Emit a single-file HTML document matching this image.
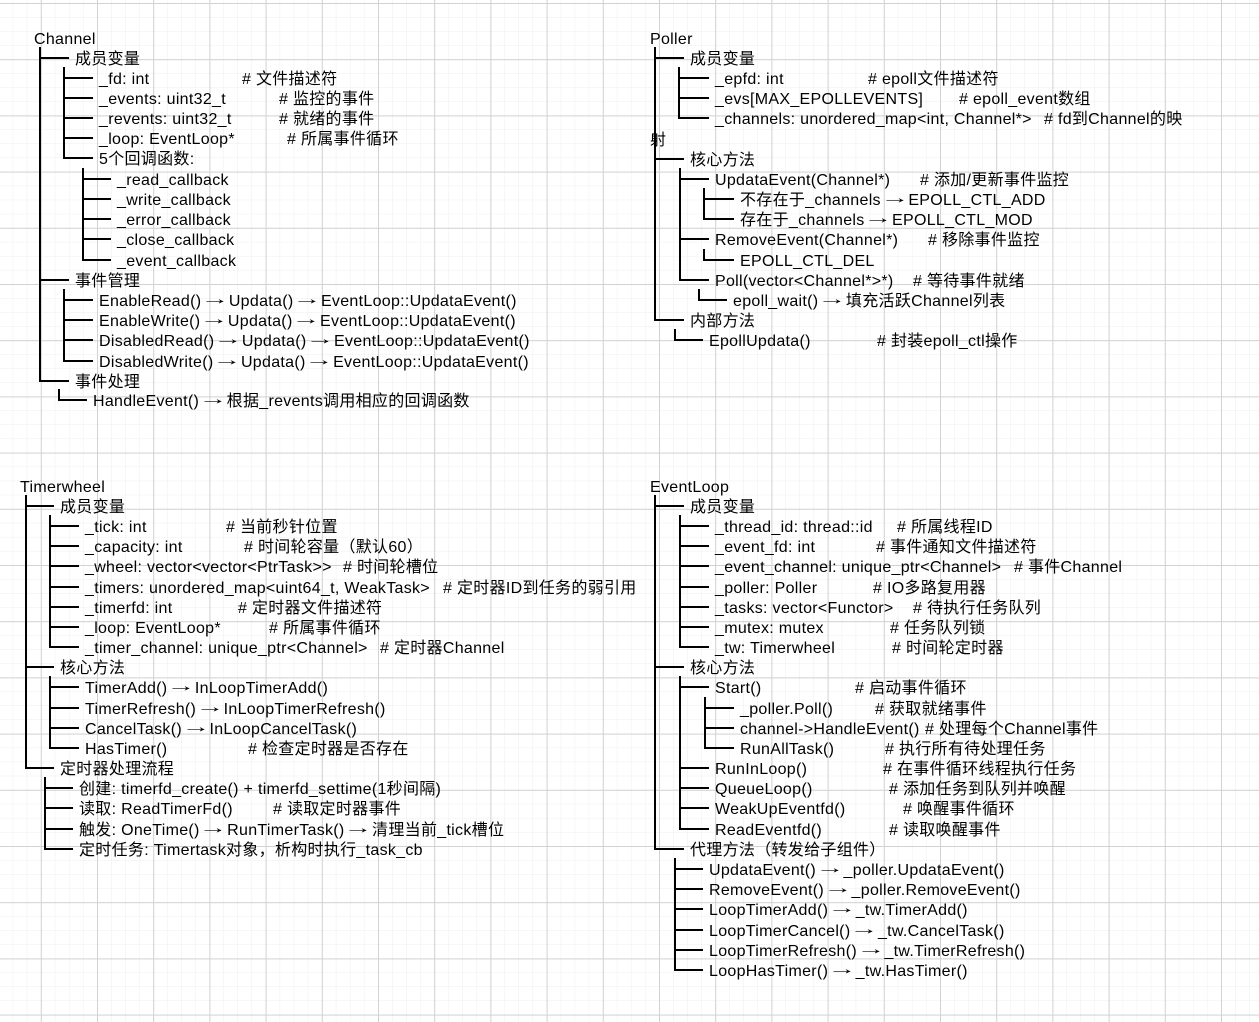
<!DOCTYPE html>
<html><head><meta charset="utf-8">
<style>
html,body{margin:0;padding:0;background:#fff;}
#w{position:relative;width:1259px;height:1022px;overflow:hidden;font-family:"Liberation Sans","Noto Sans CJK SC",sans-serif;font-size:16px;color:#000;}
.t{position:absolute;white-space:pre;line-height:20px;height:20px;letter-spacing:0.3px;}
.a{display:inline-block;width:18px;text-align:center;font-family:"Liberation Sans",sans-serif;transform:translateY(-2px) scaleX(1.8);}
svg{position:absolute;left:0;top:0;}
</style></head><body><div id="w">
<svg width="1259" height="1022" id="g">
<defs>
<pattern id="mi" x="40.8" y="3" width="14.05" height="14.05" patternUnits="userSpaceOnUse">
<path d="M0 0H14.05M0 0V14.05" stroke="#eeeeee" stroke-width="1" fill="none"/></pattern>
<pattern id="ma" x="40.8" y="3" width="56.2" height="56.2" patternUnits="userSpaceOnUse">
<path d="M0 0.5H56.2M0.5 0V56.2" stroke="#d2d2d2" stroke-width="1" fill="none"/></pattern>
</defs>
<rect width="1259" height="1022" fill="url(#mi)"/>
<rect width="1259" height="1022" fill="url(#ma)"/>
<g id="lines" stroke="#000" stroke-width="2"></g>
</svg>
</div>
<script>
var sections=[
[[34,38,"Channel",null],
[75,58,"成员变量",40],
[99,78,"_fd: int",64,242,"# 文件描述符"],
[99,98,"_events: uint32_t",64,279,"# 监控的事件"],
[99,118,"_revents: uint32_t",64,279,"# 就绪的事件"],
[99,138,"_loop: EventLoop*",64,287,"# 所属事件循环"],
[99,158,"5个回调函数:",64],
[117,179,"_read_callback",83],
[117,199,"_write_callback",83],
[117,219,"_error_callback",83],
[117,239,"_close_callback",83],
[117,260,"_event_callback",83],
[75,280,"事件管理",40],
[99,300,"EnableRead() → Updata() → EventLoop::UpdataEvent()",64],
[99,320,"EnableWrite() → Updata() → EventLoop::UpdataEvent()",64],
[99,340,"DisabledRead() → Updata() → EventLoop::UpdataEvent()",64],
[99,361,"DisabledWrite() → Updata() → EventLoop::UpdataEvent()",64],
[75,381,"事件处理",40],
[93,400,"HandleEvent() → 根据_revents调用相应的回调函数",59]],
[[650,38,"Poller",null],
[690,58,"成员变量",655],
[715,78,"_epfd: int",679,868,"# epoll文件描述符"],
[715,98,"_evs[MAX_EPOLLEVENTS]",679,959,"# epoll_event数组"],
[715,118,"_channels: unordered_map<int, Channel*>",679,1044,"# fd到Channel的映"],
[650,139,"射",undefined],
[690,159,"核心方法",655],
[715,179,"UpdataEvent(Channel*)",680,920,"# 添加/更新事件监控"],
[740,199,"不存在于_channels → EPOLL_CTL_ADD",704],
[740,219,"存在于_channels → EPOLL_CTL_MOD",704],
[715,239,"RemoveEvent(Channel*)",680,928,"# 移除事件监控"],
[740,260,"EPOLL_CTL_DEL",704],
[715,280,"Poll(vector<Channel*>*)",680,913,"# 等待事件就绪"],
[733,300,"epoll_wait() → 填充活跃Channel列表",699],
[690,320,"内部方法",655],
[709,340,"EpollUpdata()",675,877,"# 封装epoll_ctl操作"]],
[[20,486,"Timerwheel",null],
[60,506,"成员变量",26],
[85,526,"_tick: int",50,226,"# 当前秒针位置"],
[85,546,"_capacity: int",50,244,"# 时间轮容量（默认60）"],
[85,566,"_wheel: vector<vector<PtrTask>>",50,343,"# 时间轮槽位"],
[85,587,"_timers: unordered_map<uint64_t, WeakTask>",50,443,"# 定时器ID到任务的弱引用"],
[85,607,"_timerfd: int",50,238,"# 定时器文件描述符"],
[85,627,"_loop: EventLoop*",50,269,"# 所属事件循环"],
[85,647,"_timer_channel: unique_ptr<Channel>",50,380,"# 定时器Channel"],
[60,667,"核心方法",26],
[85,687,"TimerAdd() → InLoopTimerAdd()",50],
[85,708,"TimerRefresh() → InLoopTimerRefresh()",50],
[85,728,"CancelTask() → InLoopCancelTask()",50],
[85,748,"HasTimer()",50,248,"# 检查定时器是否存在"],
[60,768,"定时器处理流程",26],
[79,788,"创建: timerfd_create() + timerfd_settime(1秒间隔)",45],
[79,808,"读取: ReadTimerFd()",45,273,"# 读取定时器事件"],
[79,829,"触发: OneTime() → RunTimerTask() → 清理当前_tick槽位",45],
[79,849,"定时任务: Timertask对象，析构时执行_task_cb",45]],
[[650,486,"EventLoop",null],
[690,506,"成员变量",655],
[715,526,"_thread_id: thread::id",680,897,"# 所属线程ID"],
[715,546,"_event_fd: int",680,876,"# 事件通知文件描述符"],
[715,566,"_event_channel: unique_ptr<Channel>",680,1014,"# 事件Channel"],
[715,587,"_poller: Poller",680,873,"# IO多路复用器"],
[715,607,"_tasks: vector<Functor>",680,913,"# 待执行任务队列"],
[715,627,"_mutex: mutex",680,890,"# 任务队列锁"],
[715,647,"_tw: Timerwheel",680,892,"# 时间轮定时器"],
[690,667,"核心方法",655],
[715,687,"Start()",680,855,"# 启动事件循环"],
[740,708,"_poller.Poll()",705,875,"# 获取就绪事件"],
[740,728,"channel->HandleEvent()",705,925,"# 处理每个Channel事件"],
[740,748,"RunAllTask()",705,885,"# 执行所有待处理任务"],
[715,768,"RunInLoop()",680,883,"# 在事件循环线程执行任务"],
[715,788,"QueueLoop()",680,889,"# 添加任务到队列并唤醒"],
[715,808,"WeakUpEventfd()",680,903,"# 唤醒事件循环"],
[715,829,"ReadEventfd()",680,889,"# 读取唤醒事件"],
[690,849,"代理方法（转发给子组件）",655],
[709,869,"UpdataEvent() → _poller.UpdataEvent()",675],
[709,889,"RemoveEvent() → _poller.RemoveEvent()",675],
[709,909,"LoopTimerAdd() → _tw.TimerAdd()",675],
[709,930,"LoopTimerCancel() → _tw.CancelTask()",675],
[709,950,"LoopTimerRefresh() → _tw.TimerRefresh()",675],
[709,970,"LoopHasTimer() → _tw.HasTimer()",675]]
];
var W=document.getElementById('w'),G=document.getElementById('lines'),NS="http://www.w3.org/2000/svg";
function line(x1,y1,x2,y2){var l=document.createElementNS(NS,'line');l.setAttribute('x1',x1);l.setAttribute('y1',y1);l.setAttribute('x2',x2);l.setAttribute('y2',y2);G.appendChild(l);}
function esc(s){return s.replace(/&/g,'&amp;').replace(/</g,'&lt;').replace(/>/g,'&gt;');}
function txt(x,y,s){var d=document.createElement('div');d.className='t';d.style.left=x+'px';d.style.top=(y-8)+'px';d.innerHTML=esc(s).split('→').join('<span class="a">→</span>');W.appendChild(d);}
sections.forEach(function(sec){
 var last={};
 sec.forEach(function(e){
  var x=e[0],y=e[1],cx=e[3];
  txt(x,y,e[2]);
  if(e[5])txt(e[4],y,e[5]);
  if(cx===undefined)return;
  if(cx===null){last={};return;}
  for(var k in last){if(+k>cx)delete last[k];}
  var ys=(last[cx]!==undefined)?last[cx]:y-11;
  line(cx,ys,cx,y+1);
  line(cx-1,y,x-6,y);
  last[cx]=y;
 });
});
</script>
</body></html>
